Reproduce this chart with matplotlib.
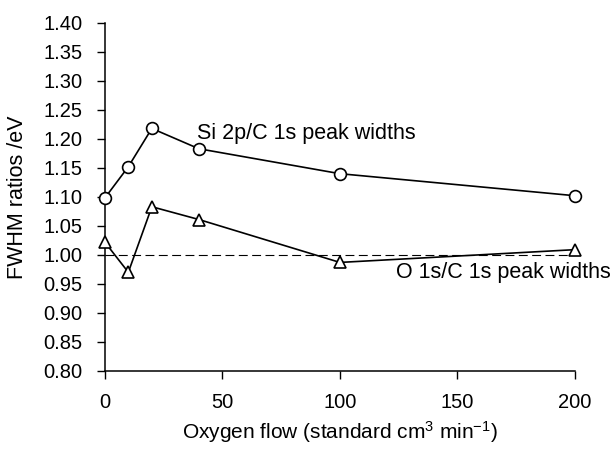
import matplotlib
matplotlib.use("Agg")
import matplotlib.pyplot as plt

# oxygen flow (standard cm3 min-1)
OXYGEN_FLOW = [0, 10, 20, 40, 100, 200]
SI_C_RATIO = [1.098, 1.152, 1.218, 1.183, 1.140, 1.102]
O_C_RATIO = [1.022, 0.970, 1.083, 1.061, 0.987, 1.009]
REFERENCE_LEVEL = 1.0

X_TICKS = [0, 50, 100, 150, 200]
Y_TICKS = [0.80, 0.85, 0.90, 0.95, 1.00, 1.05, 1.10, 1.15, 1.20, 1.25, 1.30, 1.35, 1.40]


def main() -> None:
    plt.rcParams.update(
        {
            "font.family": ["Liberation Sans", "DejaVu Sans"],
            "font.size": 14.5,
            "mathtext.fontset": "custom",
            "mathtext.rm": "Liberation Sans",
            "mathtext.it": "Liberation Sans:italic",
            "mathtext.bf": "Liberation Sans:bold",
        }
    )

    fig = plt.figure(figsize=(6.13, 4.49), dpi=100)
    ax = fig.add_axes([0.171, 0.174, 0.767, 0.775])

    ax.plot(
        [OXYGEN_FLOW[0], OXYGEN_FLOW[-1]],
        [REFERENCE_LEVEL, REFERENCE_LEVEL],
        color="black",
        linestyle=(0, (8, 4)),
        linewidth=0.8,
        zorder=1,
    )
    ax.plot(
        OXYGEN_FLOW,
        SI_C_RATIO,
        color="black",
        linewidth=1.2,
        marker="o",
        markersize=8.5,
        markerfacecolor="white",
        markeredgecolor="black",
        markeredgewidth=1.2,
        clip_on=False,
        zorder=3,
    )
    ax.plot(
        OXYGEN_FLOW,
        O_C_RATIO,
        color="black",
        linewidth=1.2,
        marker="^",
        markersize=8.5,
        markerfacecolor="white",
        markeredgecolor="black",
        markeredgewidth=1.2,
        clip_on=False,
        zorder=3,
    )

    ax.text(39, 1.21, "Si 2p/C 1s peak widths", ha="left", va="center", fontsize=15.5)
    ax.text(215, 0.969, "O 1s/C 1s peak widths", ha="right", va="center", fontsize=15.5,
            clip_on=False)

    ax.set_xlim(0, 200)
    ax.set_ylim(0.80, 1.40)
    ax.set_xticks(X_TICKS)
    ax.set_yticks(Y_TICKS)
    ax.set_yticklabels([f"{v:.2f}" for v in Y_TICKS])

    ax.set_xlabel("Oxygen flow (standard cm$^{3}$ min$^{\u2212 1}$)", fontsize=15, labelpad=5)
    ax.set_ylabel("FWHM ratios /eV", fontsize=15.5, labelpad=11)

    for side in ("top", "right"):
        ax.spines[side].set_visible(False)
    for side in ("left", "bottom"):
        ax.spines[side].set_linewidth(1.1)
    ax.tick_params(direction="out", length=6, width=1.0, pad=10)

    fig.savefig("out.png", dpi=100)


if __name__ == "__main__":
    main()
